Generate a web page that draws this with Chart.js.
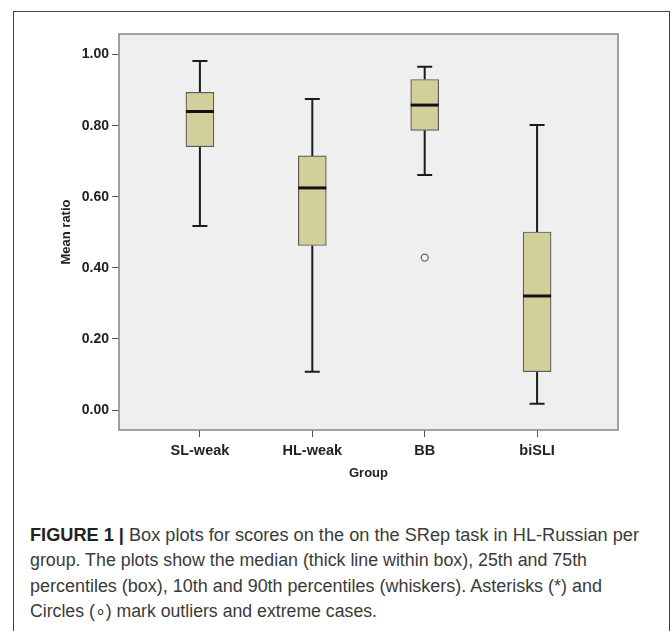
<!DOCTYPE html>
<html><head><meta charset="utf-8">
<script src="https://cdn.jsdelivr.net/npm/chart.js@4/dist/chart.umd.min.js"></script>
<style>
html,body{margin:0;padding:0;background:#fff;width:672px;height:631px;overflow:hidden;}
#frame{position:absolute;left:13px;top:11px;width:657px;height:700px;border:1px solid #444;box-sizing:border-box;}
#wrap{position:absolute;left:0;top:0;width:672px;height:500px;}
#caption{position:absolute;left:30px;top:523px;font-family:"Liberation Sans Narrow","Liberation Sans",Arial,sans-serif;font-size:18px;line-height:25.3px;color:#3a3a3a;}
#caption div{white-space:nowrap;transform-origin:0 50%;width:max-content;}
#caption b{color:#222;}
</style></head>
<body>
<div id="frame"></div>
<div id="wrap"><canvas id="c" width="672" height="500"></canvas></div>
<div id="caption">
<div data-w="609"><b>FIGURE 1 |</b> Box plots for scores on the on the SRep task in HL-Russian per</div>
<div data-w="557">group. The plots show the median (thick line within box), 25th and 75th</div>
<div data-w="572">percentiles (box), 10th and 90th percentiles (whiskers). Asterisks (*) and</div>
<div data-w="347">Circles (&#8728;) mark outliers and extreme cases.</div>
</div>
<script>
// ---- data ----
const groups      = ['SL-weak', 'HL-weak', 'BB', 'biSLI'];
const whiskerLow  = [0.518, 0.108, 0.661, 0.018];
const q1          = [0.741, 0.463, 0.787, 0.108];
const median      = [0.840, 0.625, 0.858, 0.321];
const q3          = [0.894, 0.715, 0.930, 0.501];
const whiskerHigh = [0.982, 0.875, 0.966, 0.802];
const outlierGroup = ['BB'];
const outlierValue = [0.429];
const yTicks = [0.00, 0.20, 0.40, 0.60, 0.80, 1.00];

const plotBg = {
  id: 'plotBg',
  beforeDraw(chart) {
    const {ctx, chartArea: a} = chart;
    ctx.save();
    ctx.fillStyle = '#efefef';
    ctx.fillRect(a.left, a.top, a.right - a.left, a.bottom - a.top);
    ctx.restore();
  },
  afterDraw(chart) {
    const {ctx, chartArea: a} = chart;
    ctx.save();
    ctx.strokeStyle = '#8a8a8a';
    ctx.lineWidth = 1.6;
    ctx.strokeRect(a.left, a.top, a.right - a.left, a.bottom - a.top);
    ctx.restore();
  }
};

const boxParts = {
  id: 'boxParts',
  beforeDatasetsDraw(chart) {
    const {ctx, scales: {x, y}} = chart;
    ctx.save();
    ctx.strokeStyle = '#1c1c1c';
    ctx.lineWidth = 2;
    groups.forEach((g, i) => {
      const cx = x.getPixelForValue(i);
      const yh = y.getPixelForValue(whiskerHigh[i]);
      const yl = y.getPixelForValue(whiskerLow[i]);
      const y3 = y.getPixelForValue(q3[i]);
      const y1 = y.getPixelForValue(q1[i]);
      ctx.beginPath();
      ctx.moveTo(cx, yh); ctx.lineTo(cx, y3);
      ctx.moveTo(cx, y1); ctx.lineTo(cx, yl);
      ctx.moveTo(cx - 7.5, yh); ctx.lineTo(cx + 7.5, yh);
      ctx.moveTo(cx - 7.5, yl); ctx.lineTo(cx + 7.5, yl);
      ctx.stroke();
    });
    ctx.restore();
  },
  afterDatasetsDraw(chart) {
    const {ctx, scales: {x, y}} = chart;
    ctx.save();
    ctx.strokeStyle = '#111';
    ctx.lineWidth = 3;
    groups.forEach((g, i) => {
      const cx = x.getPixelForValue(i);
      const ym = y.getPixelForValue(median[i]);
      ctx.beginPath();
      ctx.moveTo(cx - 14, ym); ctx.lineTo(cx + 14, ym);
      ctx.stroke();
    });
    ctx.restore();
  }
};

new Chart(document.getElementById('c'), {
  type: 'bar',
  data: {
    datasets: [
      {
        type: 'bar',
        data: groups.map((g, i) => ({x: i, y: [q1[i], q3[i]]})),
        backgroundColor: '#d3cf9b',
        borderColor: '#5a5a5a',
        borderWidth: 1.2,
        borderSkipped: false,
        barThickness: 28,
        grouped: false
      },
      {
        type: 'scatter',
        data: outlierGroup.map((g, k) => ({x: groups.indexOf(g), y: outlierValue[k]})),
        pointStyle: 'circle',
        pointRadius: 3.5,
        borderColor: '#6a6a6a',
        backgroundColor: '#f4f4f4',
        borderWidth: 1.3
      }
    ]
  },
  options: {
    responsive: false,
    animation: false,
    events: [],
    layout: {padding: {left: 0, top: 34, right: 54, bottom: 0}},
    plugins: {legend: {display: false}, tooltip: {enabled: false}},
    scales: {
      x: {
        type: 'linear',
        min: -0.72, max: 3.72,
        offset: false,
        afterBuildTicks: s => { s.ticks = groups.map((g, i) => ({value: i})); },
        afterFit: s => { s.height = 70; },
        ticks: {
          callback: v => groups[v],
          font: {family: '"Liberation Sans", Arial, sans-serif', size: 14.5, weight: 'bold'},
          color: '#222',
          padding: 5,
          maxRotation: 0
        },
        grid: {drawOnChartArea: false, drawTicks: true, tickLength: 7, color: '#555', offset: false},
        border: {display: false},
        title: {
          display: true, text: 'Group', color: '#222',
          font: {family: '"Liberation Sans", Arial, sans-serif', size: 13, weight: 'bold'},
          padding: {top: 0, bottom: 19}
        }
      },
      y: {
        type: 'linear',
        min: -0.056, max: 1.058,
        afterBuildTicks: s => { s.ticks = yTicks.map(v => ({value: v})); },
        afterFit: s => { s.width = 119; },
        ticks: {
          callback: v => v.toFixed(2),
          font: {family: '"Liberation Sans", Arial, sans-serif', size: 14, weight: 'bold'},
          color: '#222',
          padding: 3
        },
        grid: {drawOnChartArea: false, drawTicks: true, tickLength: 7, color: '#555'},
        border: {display: false},
        title: {
          display: true, text: 'Mean ratio', color: '#222',
          font: {family: '"Liberation Sans", Arial, sans-serif', size: 13, weight: 'bold'},
          padding: {top: 59, bottom: 0}
        }
      }
    }
  },
  plugins: [plotBg, boxParts]
});

document.querySelectorAll('#caption div').forEach(d => {
  const target = +d.dataset.w;
  const w = d.getBoundingClientRect().width;
  if (w > 0) d.style.transform = 'scaleX(' + (target / w) + ')';
});
</script>
</body></html>
